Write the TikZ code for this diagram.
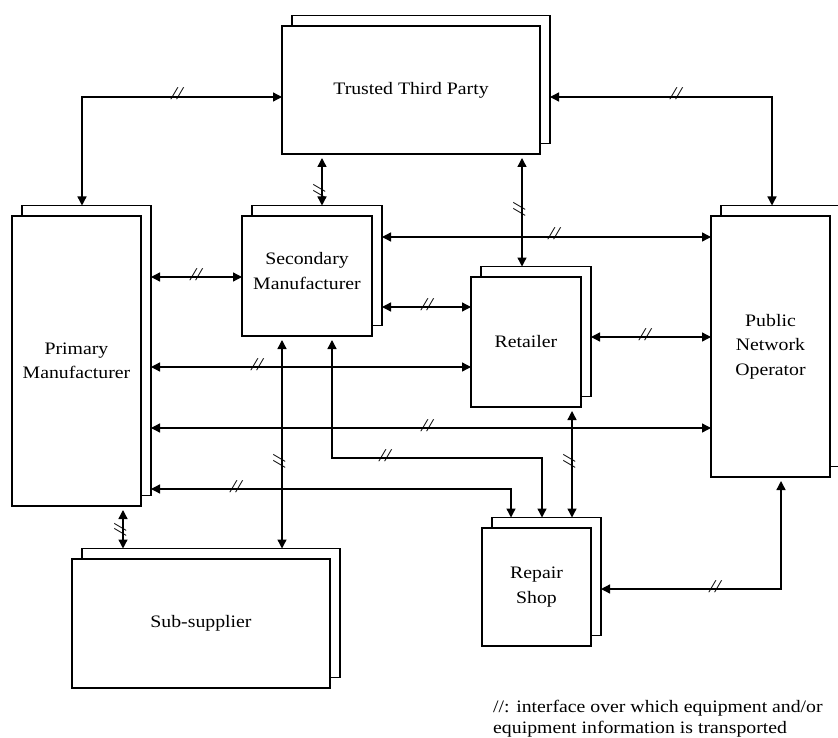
\documentclass[tikz,border=0pt]{standalone}
\usepackage{fontspec}
\setmainfont[FakeStretch=1.13]{Liberation Serif}
\usetikzlibrary{arrows.meta}
\newcommand\stackbox[6]{%
  \node[backbox, minimum width=#4pt, minimum height=#5pt] (#1b) at (#2+10,#3-10.5) {};
  \node[frontbox, minimum width=#4pt, minimum height=#5pt] (#1) at (#2,#3) {#6};}
\tikzset{
  boxline/.style={draw, line width=1.35pt, fill=white, inner sep=0pt, outer sep=0pt},
  backbox/.style={boxline},
  boxtext/.style={align=center, font=\fontsize{17.5}{24.5}\selectfont},
  frontbox/.style={boxline, boxtext},
  conn/.style={line width=1.35pt, {Triangle[length=9pt,width=9pt]}-{Triangle[length=9pt,width=9pt]}},
  fromgap/.style={shorten <=4pt},
  hmark/.style={font=\fontsize{18}{18}\selectfont\itshape, inner sep=0pt, anchor=base},
  vmark/.style={hmark, rotate=90},
}
\begin{document}
\begin{tikzpicture}[x=1pt,y=-1pt]
\useasboundingbox[fill=white] (0,0) rectangle (838,738);
% boxes
\stackbox{ttp}{411}{90}{258}{128}{Trusted Third Party}
\stackbox{pm}{76.5}{361}{129}{290}{Primary\\Manufacturer}
\stackbox{sm}{307}{276}{130}{120}{}
\node[boxtext, inner sep=0pt] (smtext) at ([yshift=5pt]sm.center) {Secondary\\Manufacturer};
\stackbox{ret}{526}{342}{110}{130}{Retailer}
\stackbox{pno}{770.5}{346.5}{119}{261}{Public\\Network\\Operator}
\stackbox{ss}{201}{623.5}{258}{129}{Sub-supplier}
\stackbox{rs}{536.5}{587}{109}{118}{Repair\\Shop}
% connectors
\draw[conn] (82,0 |- pmb.north) -- (82,97) -- (ttp.west |- 0,97);
\draw[conn] (ttpb.east |- 0,97) -- (772,97) -- (772,0 |- pnob.north);
\draw[conn,fromgap] (322,0 |- ttp.south) -- (322,0 |- smb.north);
\draw[conn,fromgap] (522,0 |- ttp.south) -- (522,0 |- retb.north);
\draw[conn] (smb.east |- 0,237) -- (pno.west |- 0,237);
\draw[conn] (pmb.east |- 0,277) -- (sm.west |- 0,277);
\draw[conn] (smb.east |- 0,307) -- (ret.west |- 0,307);
\draw[conn] (pmb.east |- 0,367) -- (ret.west |- 0,367);
\draw[conn] (retb.east |- 0,337) -- (pno.west |- 0,337);
\draw[conn] (pmb.east |- 0,428) -- (pno.west |- 0,428);
\draw[conn] (pmb.east |- 0,489) -- (511,489) -- (511,0 |- rsb.north);
\draw[conn,fromgap] (332,0 |- sm.south) -- (332,458) -- (542,458) -- (542,0 |- rsb.north);
\draw[conn,fromgap] (282,0 |- sm.south) -- (282,0 |- ssb.north);
\draw[conn,fromgap] (123,0 |- pm.south) -- (123,0 |- ssb.north);
\draw[conn,fromgap] (572,0 |- ret.south) -- (572,0 |- rsb.north);
\draw[conn,fromgap] (781,0 |- pno.south) -- (781,589) -- (rsb.east |- 0,589);
% interface marks
\node[hmark] (m1) at (177,100) {//};
\node[hmark] (m2) at (676,100) {//};
\node[vmark] (m3) at (325,192) {//};
\node[vmark] (m4) at (525,210) {//};
\node[hmark] (m5) at (554,240) {//};
\node[hmark] (m6) at (196,280) {//};
\node[hmark] (m7) at (427,310) {//};
\node[hmark] (m8) at (257,370) {//};
\node[hmark] (m9) at (645,340) {//};
\node[hmark] (m10) at (427,431) {//};
\node[hmark] (m11) at (236,492) {//};
\node[hmark] (m12) at (385,461) {//};
\node[vmark] (m13) at (285,462) {//};
\node[vmark] (m14) at (126,530) {//};
\node[vmark] (m15) at (575,462) {//};
\node[hmark] (m16) at (715,592) {//};
% legend
\node[anchor=north west, align=left, inner sep=0pt, font=\fontsize{17.5}{21}\selectfont] (legend) at (493,700)
  {//: interface over which equipment and/or\\equipment information is transported};
\end{tikzpicture}
\end{document}
